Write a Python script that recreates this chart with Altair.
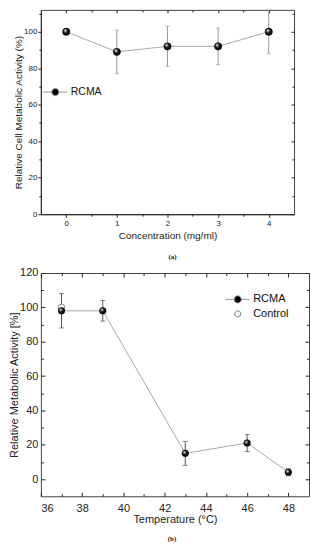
import altair as alt
import pandas as pd

# ---------- data ----------
conc = [0, 1, 2, 3, 4]
act_a = [100, 89, 92, 92, 100]
err_a = [0, 12, 11, 10, 12]

temp = [37, 39, 43, 46, 48]
act_b = [98, 98, 15, 21, 4]
err_b = [10, 6, 7, 5, 2]
ctrl_temp = [37]
ctrl_act = [100]

a_x_major = [0, 1, 2, 3, 4]
a_x_minor = [0.5, 1.5, 2.5, 3.5]
a_y_major = [0, 20, 40, 60, 80, 100]
a_y_minor = [10, 30, 50, 70, 90, 110]
b_x_major = [36, 38, 40, 42, 44, 46, 48]
b_x_minor = [37, 39, 41, 43, 45, 47]
b_y_major = [0, 20, 40, 60, 80, 100, 120]
b_y_minor = [10, 30, 50, 70, 90, 110]

FONT = "Liberation Sans"
BALL = {
    "gradient": "radial", "x1": 0.35, "y1": 0.3, "r1": 0.0,
    "x2": 0.45, "y2": 0.45, "r2": 0.6,
    "stops": [
        {"offset": 0.0, "color": "#ffffff"},
        {"offset": 0.22, "color": "#9a9a9a"},
        {"offset": 0.5, "color": "#151515"},
        {"offset": 1.0, "color": "#000000"},
    ],
}
PATH_RCMA = "M-2,0L-0.6,0M0.6,0L2,0M0.6,0A0.6,0.6,0,1,1,-0.6,0A0.6,0.6,0,1,1,0.6,0Z"
PATH_CTRL = "M0.5,0A0.5,0.5,0,1,1,-0.5,0A0.5,0.5,0,1,1,0.5,0Z"

dfa = pd.DataFrame({"x": conc, "y": act_a,
                    "lo": [v - e for v, e in zip(act_a, err_a)],
                    "hi": [v + e for v, e in zip(act_a, err_a)],
                    "series": ["RCMA"] * len(conc)})
dfb = pd.DataFrame({"x": temp, "y": act_b,
                    "lo": [v - e for v, e in zip(act_b, err_b)],
                    "hi": [v + e for v, e in zip(act_b, err_b)],
                    "series": ["RCMA"] * len(temp)})
dfc = pd.DataFrame({"x": ctrl_temp, "y": ctrl_act, "series": ["Control"]})


def ax_layer(df, xs, ys, xaxis, yaxis):
    return alt.Chart(df).mark_point(opacity=0).encode(
        x=alt.X("x:Q", scale=xs, axis=xaxis),
        y=alt.Y("y:Q", scale=ys, axis=yaxis),
    )


def plain(orient, values, size, offset=0, color="#222222"):
    kw = dict(orient=orient, values=values, labels=False, domain=False,
              tickSize=size, title=None, tickColor=color)
    if offset:
        kw["offset"] = offset
    return alt.Axis(**kw)


def data_layers(df, xs, ys, line_col, err_col, cap, ball_size):
    line = alt.Chart(df).mark_line(color=line_col, strokeWidth=1).encode(
        x=alt.X("x:Q", scale=xs, axis=None), y=alt.Y("y:Q", scale=ys, axis=None))
    rule = alt.Chart(df).mark_rule(color=err_col, strokeWidth=1).encode(
        x=alt.X("x:Q", scale=xs, axis=None), y=alt.Y("lo:Q", scale=ys, axis=None),
        y2="hi:Q")
    caps = alt.Chart(df).transform_fold(["lo", "hi"], as_=["k", "v"]).mark_tick(
        orient="horizontal", size=cap, thickness=1, color=err_col).encode(
        x=alt.X("x:Q", scale=xs, axis=None), y=alt.Y("v:Q", scale=ys, axis=None))
    balls = alt.Chart(df).mark_circle(size=ball_size, fill=BALL, opacity=1,
                                      stroke="#000", strokeWidth=0.5).encode(
        x=alt.X("x:Q", scale=xs, axis=None), y=alt.Y("y:Q", scale=ys, axis=None))
    return line, rule, caps, balls


def legend_layer(df, xs, ys, domain, shapes, fills, strokes, lx, ly, fs):
    leg = alt.Legend(title=None, orient="none", legendX=lx, legendY=ly,
                     labelFont=FONT, labelFontSize=fs, labelColor="#111",
                     symbolSize=144, symbolStrokeWidth=1, labelOffset=9,
                     symbolOpacity=1, rowPadding=1.5, padding=0, direction="vertical")
    return alt.Chart(df).transform_filter("false").mark_point(filled=True, opacity=1).encode(
        x=alt.X("x:Q", scale=xs, axis=None), y=alt.Y("y:Q", scale=ys, axis=None),
        shape=alt.Shape("series:N", scale=alt.Scale(domain=domain, range=shapes), legend=leg),
        fill=alt.Fill("series:N", scale=alt.Scale(domain=domain, range=fills), legend=leg),
        stroke=alt.Stroke("series:N", scale=alt.Scale(domain=domain, range=strokes), legend=leg),
    )


# ---------- panel (a) ----------
WA, HA = 254, 205
xa = alt.Scale(domain=[-0.5, 4.5], nice=False, zero=False)
ya = alt.Scale(domain=[0, 112], nice=False, zero=False)

a_main = ax_layer(
    dfa, xa, ya,
    alt.Axis(orient="bottom", values=a_x_major, title="Concentration (mg/ml)",
             tickSize=3, labelFontSize=8, labelPadding=2, titleFontSize=10,
             titlePadding=3, domain=True, domainWidth=1.2),
    alt.Axis(orient="left", values=a_y_major,
             title="Relative Cell Metabolic Activity (%)",
             tickSize=3, labelFontSize=8, labelPadding=1, titleFontSize=10,
             titlePadding=0, domain=True, domainWidth=1.2),
)
a_minor = ax_layer(dfa, xa, ya, plain("bottom", a_x_minor, 2), plain("left", a_y_minor, 2))
a_mirror = ax_layer(dfa, xa, ya, plain("top", a_x_major, 3, -3), plain("right", a_y_major, 3, -3))
a_mirror2 = ax_layer(dfa, xa, ya, plain("top", a_x_minor, 2, -2), plain("right", a_y_minor, 2, -2))

la, ra, ca, ba = data_layers(dfa, xa, ya, "#aaaaaa", "#9a9a9a", 4, 55)
leg_a = legend_layer(dfa, xa, ya, ["RCMA"], [PATH_RCMA], ["#000000"], ["#999999"], 8, 76, 10.5)

panel_a = alt.layer(a_main, a_minor, a_mirror, a_mirror2, la, ra, ca, ba, leg_a).resolve_axis(
    x="independent", y="independent").properties(
    width=WA, height=HA,
    title=alt.TitleParams("(a)", orient="bottom", anchor="middle", font="Liberation Serif",
                          fontWeight="bold", fontSize=7, color="#222", offset=13, dx=5))

# ---------- panel (b) ----------
WB, HB = 269, 224
xb = alt.Scale(domain=[36, 49], nice=False, zero=False)
yb = alt.Scale(domain=[-10, 120], nice=False, zero=False)

b_main = ax_layer(
    dfb, xb, yb,
    alt.Axis(orient="bottom", values=b_x_major, title="Temperature (°C)", ticks=False,
             labelFontSize=11, labelPadding=6, titleFontSize=11, titlePadding=0, domain=False),
    alt.Axis(orient="left", values=b_y_major, title="Relative Metabolic Activity [%]", ticks=False,
             labelFontSize=11, labelPadding=3, titleFontSize=11, titlePadding=0, domain=False),
)
b_in = ax_layer(dfb, xb, yb, plain("bottom", b_x_major, 4, -4), plain("left", b_y_major, 4, -4))
b_in2 = ax_layer(dfb, xb, yb, plain("bottom", b_x_minor, 2.5, -2.5), plain("left", b_y_minor, 2.5, -2.5))
b_mirror = ax_layer(dfb, xb, yb, plain("top", b_x_major, 4, -4), plain("right", b_y_major, 4, -4))
b_mirror2 = ax_layer(dfb, xb, yb, plain("top", b_x_minor, 2.5, -2.5), plain("right", b_y_minor, 2.5, -2.5))

ctrl = alt.Chart(dfc).mark_circle(size=45, fill="#ffffff", opacity=1, stroke="#888888",
                                  strokeWidth=1).encode(
    x=alt.X("x:Q", scale=xb, axis=None), y=alt.Y("y:Q", scale=yb, axis=None))
lb, rb, cb, bb = data_layers(dfb, xb, yb, "#aaaaaa", "#555555", 5, 45)
leg_b = legend_layer(dfb, xb, yb, ["RCMA", "Control"], [PATH_RCMA, PATH_CTRL],
                     ["#000000", "#ffffff"], ["#999999", "#777777"], 191, 20, 11)

panel_b = alt.layer(b_main, b_in, b_in2, b_mirror, b_mirror2, lb, rb, cb, ctrl, bb, leg_b).resolve_axis(
    x="independent", y="independent").properties(
    width=WB, height=HB,
    title=alt.TitleParams("(b)", orient="bottom", anchor="middle", font="Liberation Serif",
                          fontWeight="bold", fontSize=7, color="#222", offset=11, dx=-3))

chart = alt.concat(panel_a, panel_b, columns=1, spacing=5, align="none").resolve_scale(
    shape="independent", fill="independent", stroke="independent"
).properties(
    padding=0
).configure_axis(
    grid=False, labelFont=FONT, titleFont=FONT, labelColor="#222", titleColor="#222",
    tickColor="#222", domainColor="#333", titleFontWeight="normal", tickWidth=1,
).configure_view(stroke="#444", strokeWidth=1)

chart.save("out.html", embed_options={"renderer": "svg", "actions": False})
